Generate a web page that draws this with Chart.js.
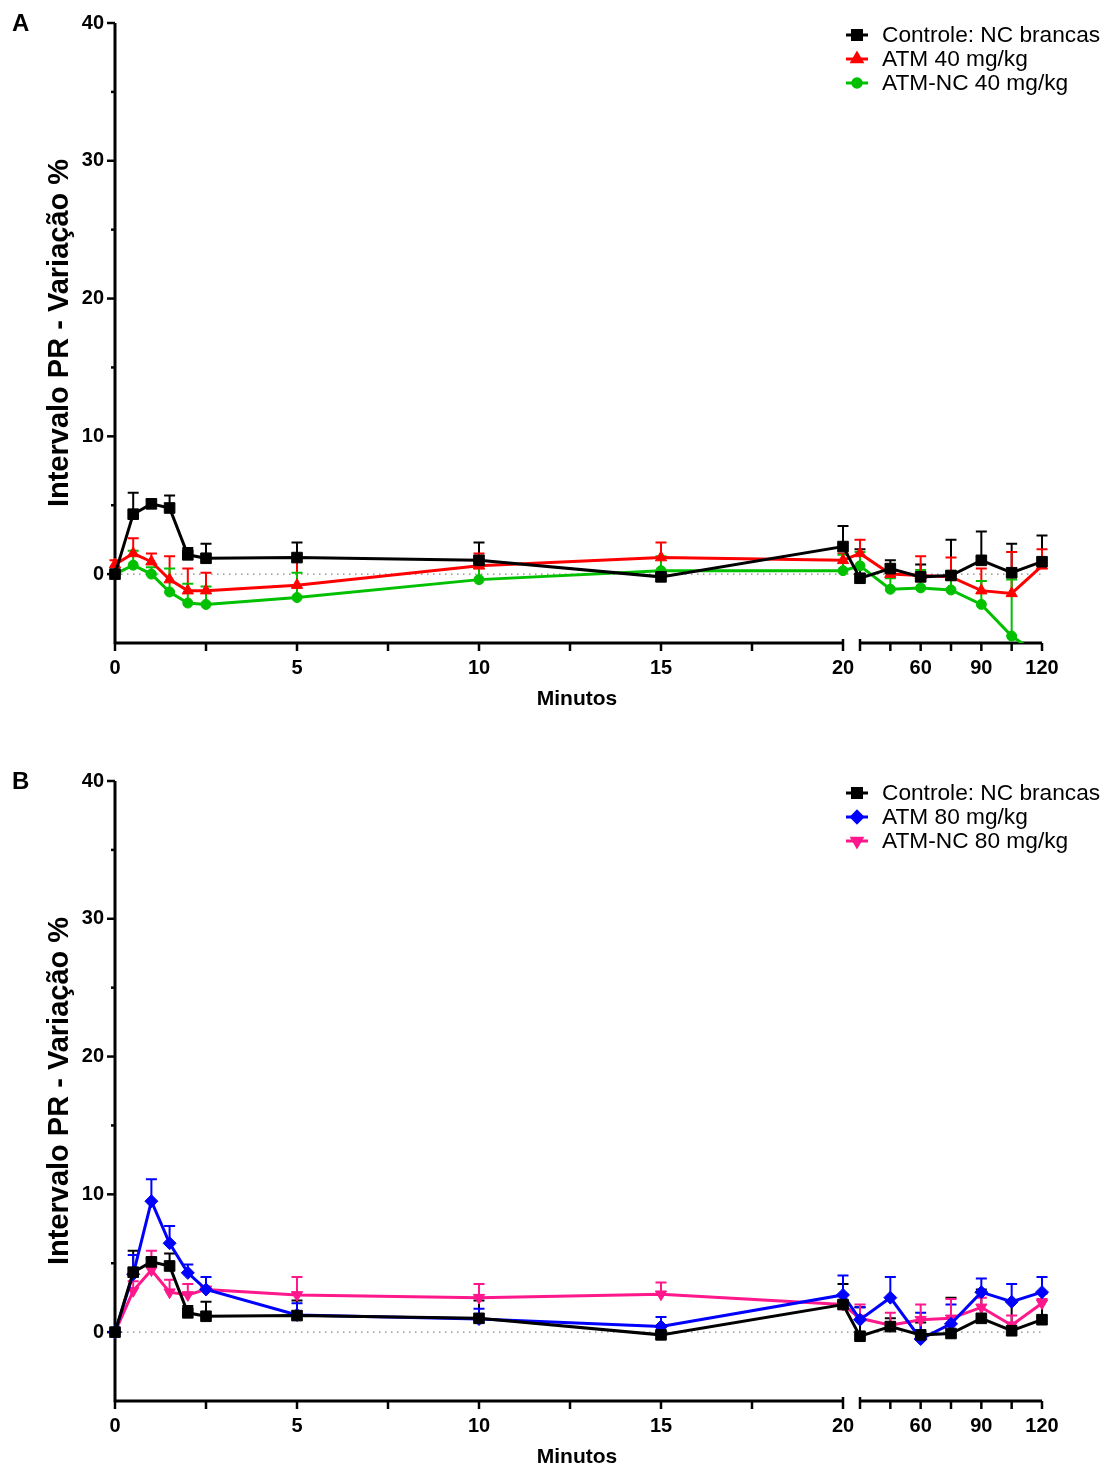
<!DOCTYPE html>
<html lang="pt">
<head>
<meta charset="UTF-8">
<title>Intervalo PR - Variação %</title>
<script src="https://cdn.jsdelivr.net/npm/chart.js"></script>
<style>
  html, body { margin: 0; padding: 0; background: #fff; overflow: hidden; }
  .panel { position: relative; width: 1108px; }
  canvas { display: block; }
</style>
</head>
<body>
<div class="panel"><canvas id="chartA" width="1108" height="758"></canvas></div>
<div class="panel"><canvas id="chartB" width="1108" height="712"></canvas></div>

<script>
// ---- data (minutes after injection) ----
const MINUTES = [0, 0.5, 1, 1.5, 2, 2.5, 5, 10, 15, 20, 30, 45, 60, 75, 90, 105, 120];
const X_TICKS = [0, 2.5, 5, 7.5, 10, 12.5, 15, 17.5, 20, 30, 45, 60, 75, 90, 105, 120];
const X_LABELS = [0, 5, 10, 15, 20, 60, 90, 120];
const Y_TICKS = [-5, 0, 5, 10, 15, 20, 25, 30, 35, 40];
const Y_LABELS = [0, 10, 20, 30, 40];

const controle    = [0, 4.35, 5.1, 4.8, 1.4, 1.15, 1.2, 1.0, -0.2, 2.0, -0.3, 0.4, -0.2, -0.1, 1.0, 0.1, 0.9];
const controleErr = [0, 1.55, 0.3, 0.9, 0.5, 1.05, 1.1, 1.3, 0.2, 1.5, 2.1, 0.6, 0.9, 2.6, 2.1, 2.1, 1.9];

const atm40       = [0.7, 1.5, 0.9, -0.4, -1.2, -1.2, -0.8, 0.6, 1.2, 1.0, 1.5, 0.0, -0.1, -0.2, -1.2, -1.4, 0.6];
const atm40Err    = [0.3, 1.1, 0.6, 1.7, 1.6, 1.3, 2.0, 0.9, 1.1, 0.5, 1.0, 0.7, 1.4, 1.4, 1.6, 3.0, 1.2];

const atmNc40     = [0, 0.65, 0.0, -1.3, -2.1, -2.2, -1.7, -0.4, 0.25, 0.25, 0.6, -1.1, -1.0, -1.15, -2.2, -4.5, -6.0];
const atmNc40Err  = [0, 1.05, 0.5, 1.7, 1.4, 1.3, 1.8, 0.9, 1.05, 1.15, 1.0, 0.8, 1.3, 1.35, 1.7, 4.1, 0];

const atm80       = [0, 4.2, 9.5, 6.45, 4.3, 3.1, 1.25, 0.95, 0.4, 2.7, 0.9, 2.5, -0.5, 0.6, 2.9, 2.2, 2.9];
const atm80Err    = [0, 1.4, 1.6, 1.25, 0.6, 0.9, 0.85, 0.75, 0.7, 1.4, 0.9, 1.5, 1.9, 1.4, 1.0, 1.3, 1.1];

const atmNc80     = [0, 3.0, 4.5, 2.9, 2.7, 3.1, 2.7, 2.5, 2.75, 2.0, 1.0, 0.5, 0.9, 1.0, 1.8, 0.5, 2.1];
const atmNc80Err  = [0, 0.7, 1.4, 0.9, 0.8, 0.2, 1.3, 1.0, 0.85, 0.75, 1.0, 0.9, 1.1, 1.4, 0.7, 0.7, 0.3];

// ---- broken x axis: 0-20 min, gap, 30-120 min ----
const BREAK_FROM = 20, BREAK_TO = 30;
const FIRST_PART = 728 / 927;   // share of axis width for 0-20
const SECOND_START = 745 / 927; // where 30-120 starts

class BrokenLinearScale extends Chart.LinearScale {
  getPixelForValue(value) {
    let d;
    if (value <= BREAK_FROM) d = value / BREAK_FROM * FIRST_PART;
    else d = SECOND_START + (value - BREAK_TO) / (this.max - BREAK_TO) * (1 - SECOND_START);
    return this.getPixelForDecimal(d);
  }
}
BrokenLinearScale.id = 'brokenLinear';
BrokenLinearScale.defaults = Chart.LinearScale.defaults;
Chart.register(BrokenLinearScale);

const FONT = '"Liberation Sans", Arial, sans-serif';

function points(values) {
  return MINUTES.map((m, i) => ({ x: m, y: values[i] }));
}

function series(label, values, errors, color, style, radius, rotation) {
  return {
    label, data: points(values), errors,
    borderColor: color, backgroundColor: color,
    pointBackgroundColor: color, pointBorderColor: color,
    borderWidth: 3, pointRadius: radius, pointBorderWidth: 1,
    pointStyle: style, pointRotation: rotation || 0,
    tension: 0,
    clip: { left: 12, top: 12, right: 12, bottom: 0 }
  };
}

// axes, zero line, error bars, legend and titles
const decorPlugin = {
  id: 'decor',
  beforeDatasetsDraw(chart) {
    const { ctx, chartArea: a, scales: { x, y } } = chart;
    ctx.save();
    // dotted zero line
    ctx.strokeStyle = '#666';
    ctx.lineWidth = 1;
    ctx.setLineDash([1.5, 4.5]);
    ctx.beginPath();
    ctx.moveTo(a.left, y.getPixelForValue(0));
    ctx.lineTo(a.right, y.getPixelForValue(0));
    ctx.stroke();
    ctx.setLineDash([]);

    ctx.strokeStyle = '#000';
    // y axis
    ctx.lineWidth = 3;
    ctx.beginPath();
    ctx.moveTo(a.left, a.top);
    ctx.lineTo(a.left, a.bottom + 1);
    ctx.stroke();
    ctx.lineWidth = 2.5;
    Y_TICKS.forEach(v => {
      if (v === -5) return;
      const len = Y_LABELS.includes(v) ? 8 : 4;
      const py = y.getPixelForValue(v);
      ctx.beginPath();
      ctx.moveTo(a.left - len, py);
      ctx.lineTo(a.left, py);
      ctx.stroke();
    });
    // x axis, two segments
    const by = a.bottom;
    ctx.lineWidth = 3;
    ctx.beginPath();
    ctx.moveTo(a.left - 1, by);
    ctx.lineTo(x.getPixelForValue(BREAK_FROM), by);
    ctx.moveTo(x.getPixelForValue(BREAK_TO), by);
    ctx.lineTo(x.getPixelForValue(x.max), by);
    ctx.stroke();
    ctx.lineWidth = 2.5;
    X_TICKS.forEach(v => {
      const px = x.getPixelForValue(v);
      const up = (v === BREAK_FROM || v === BREAK_TO) ? 4 : 0;
      ctx.beginPath();
      ctx.moveTo(px, by - up);
      ctx.lineTo(px, by + 8);
      ctx.stroke();
    });

    // error bars (upper only)
    ctx.beginPath();
    ctx.rect(a.left - 12, a.top - 12, a.right - a.left + 24, a.bottom - a.top + 12);
    ctx.clip();
    chart.data.datasets.forEach((ds, i) => {
      const meta = chart.getDatasetMeta(i);
      ctx.strokeStyle = ds.borderColor;
      ctx.lineWidth = 2;
      ds.data.forEach((p, j) => {
        const e = ds.errors[j];
        if (!e) return;
        const px = meta.data[j].x;
        const py = y.getPixelForValue(p.y);
        const ty = y.getPixelForValue(p.y + e);
        ctx.beginPath();
        ctx.moveTo(px, py);
        ctx.lineTo(px, ty);
        ctx.moveTo(px - 5.5, ty);
        ctx.lineTo(px + 5.5, ty);
        ctx.stroke();
      });
    });
    ctx.restore();
  },
  afterDraw(chart) {
    const { ctx, chartArea: a } = chart;
    const opts = chart.options.plugins.decor;
    ctx.save();
    ctx.fillStyle = '#000';
    // panel letter
    ctx.font = 'bold 24px ' + FONT;
    ctx.textAlign = 'left';
    ctx.textBaseline = 'alphabetic';
    ctx.fillText(opts.letter, 12, 31);
    // x title
    ctx.font = 'bold 21px ' + FONT;
    ctx.textAlign = 'center';
    ctx.fillText('Minutos', 577, 705);
    // y title
    ctx.save();
    ctx.translate(68, (a.top + a.bottom) / 2);
    ctx.rotate(-Math.PI / 2);
    ctx.font = 'bold 29px ' + FONT;
    ctx.fillText('Intervalo PR - Variação %', 0, 0);
    ctx.restore();
    // legend
    ctx.font = '22.7px ' + FONT;
    ctx.textAlign = 'left';
    ctx.textBaseline = 'middle';
    chart.data.datasets.forEach((ds, i) => {
      const ly = 35 + i * 24;
      ctx.strokeStyle = ds.borderColor;
      ctx.lineWidth = 3;
      ctx.beginPath();
      ctx.moveTo(846, ly);
      ctx.lineTo(868, ly);
      ctx.stroke();
      ctx.fillStyle = ds.borderColor;
      Chart.helpers.drawPoint(ctx, {
        pointStyle: ds.pointStyle, radius: ds.pointRadius * 0.85,
        rotation: ds.pointRotation, borderWidth: 1
      }, 857, ly);
      ctx.fill();
      ctx.fillStyle = '#000';
      ctx.fillText(ds.label, 882, ly + 1);
    });
    ctx.restore();
  }
};

function makeChart(id, letter, datasets, height) {
  return new Chart(document.getElementById(id), {
    type: 'line',
    data: { datasets },
    options: {
      responsive: false,
      animation: false,
      events: [],
      layout: { padding: { left: 0, right: 66, top: 22, bottom: 0 } },
      scales: {
        x: {
          type: 'brokenLinear',
          min: 0, max: 120,
          afterBuildTicks: s => { s.ticks = X_TICKS.map(v => ({ value: v })); },
          afterFit: s => { s.height = height - 643; },
          grid: { display: false, drawTicks: false },
          border: { display: false },
          ticks: {
            autoSkip: false, maxRotation: 0, padding: 13, color: '#000',
            font: { family: FONT, size: 20, weight: 'bold' },
            callback: v => X_LABELS.includes(v) ? String(v) : ''
          }
        },
        y: {
          min: -5, max: 40,
          afterBuildTicks: s => { s.ticks = Y_TICKS.map(v => ({ value: v })); },
          afterFit: s => { s.width = 115; },
          grid: { display: false, drawTicks: false },
          border: { display: false },
          ticks: {
            padding: 11, color: '#000',
            font: { family: FONT, size: 20, weight: 'bold' },
            callback: v => Y_LABELS.includes(v) ? String(v) : ''
          }
        }
      },
      plugins: {
        legend: { display: false },
        tooltip: { enabled: false },
        decor: { letter }
      }
    },
    plugins: [decorPlugin]
  });
}

makeChart('chartA', 'A', [
  series('Controle: NC brancas', controle, controleErr, '#000000', 'rect', 7.5),
  series('ATM 40 mg/kg', atm40, atm40Err, '#ff0000', 'triangle', 6.5),
  series('ATM-NC 40 mg/kg', atmNc40, atmNc40Err, '#00c000', 'circle', 5)
], 758);

makeChart('chartB', 'B', [
  series('Controle: NC brancas', controle, controleErr, '#000000', 'rect', 7.5),
  series('ATM 80 mg/kg', atm80, atm80Err, '#0000ff', 'rectRot', 6.5),
  series('ATM-NC 80 mg/kg', atmNc80, atmNc80Err, '#ff178c', 'triangle', 6.5, 180)
], 712);
</script>
</body>
</html>
